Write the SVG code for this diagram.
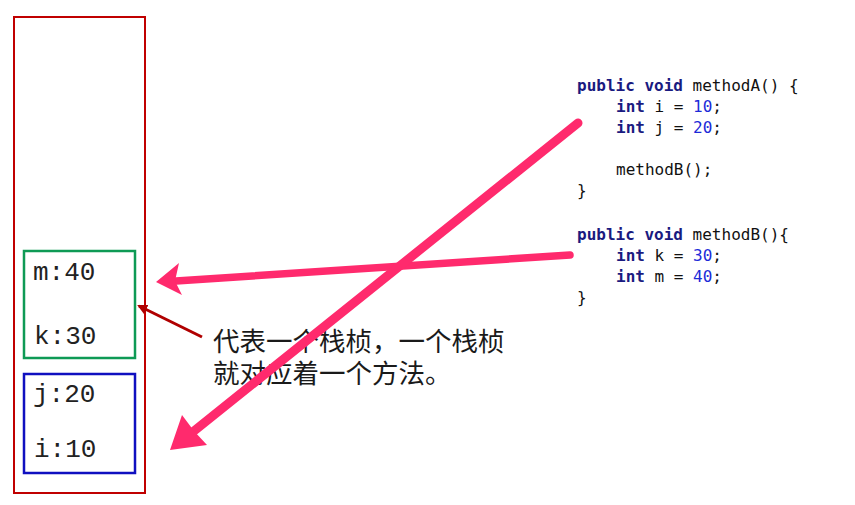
<svg xmlns="http://www.w3.org/2000/svg" width="855" height="505" viewBox="0 0 855 505">
<style>
.stk{font-family:"Liberation Mono","Courier New",monospace;font-size:26px;fill:#222}
.code{font-family:"DejaVu Sans Mono","Liberation Mono",monospace;font-size:16px;fill:#111}
.kw{fill:#1a1a80;font-weight:bold}
.num{fill:#1c2ad8}
.note{font-family:"Liberation Serif","Noto Sans CJK SC",serif;font-size:26.5px;fill:#1a1a1a}
.pink{stroke:#ff2a6d;fill:none;stroke-linecap:round}
</style>
<defs>
<marker id="dr" markerWidth="10" markerHeight="10" refX="8" refY="5" orient="auto" markerUnits="userSpaceOnUse">
<path d="M0,0 L10,5 L0,10 z" fill="#b00000"/>
</marker>
</defs>
<rect width="855" height="505" fill="#fff"/>
<g id="stack">
<rect x="14" y="17" width="131" height="476" fill="none" stroke="#c00000" stroke-width="2"/>
</g>
<g id="frameB">
<rect x="24" y="251" width="111" height="107" fill="none" stroke="#0e9a55" stroke-width="2.5"/>
<text class="stk" x="33" y="280">m:40</text>
<text class="stk" x="34" y="344">k:30</text>
</g>
<g id="frameA">
<rect x="24" y="374" width="111" height="99" fill="none" stroke="#1010c0" stroke-width="2.5"/>
<text class="stk" x="33" y="402">j:20</text>
<text class="stk" x="34" y="457">i:10</text>
</g>
<g id="codeA" class="code">
<text x="577" y="91"><tspan class="kw">public void</tspan> methodA() {</text>
<text x="616" y="112"><tspan class="kw">int</tspan> i = <tspan class="num">10</tspan>;</text>
<text x="616" y="133"><tspan class="kw">int</tspan> j = <tspan class="num">20</tspan>;</text>
<text x="616" y="175">methodB();</text>
<text x="577" y="196">}</text>
</g>
<g id="codeB" class="code">
<text x="577" y="240"><tspan class="kw">public void</tspan> methodB(){</text>
<text x="616" y="261"><tspan class="kw">int</tspan> k = <tspan class="num">30</tspan>;</text>
<text x="616" y="282"><tspan class="kw">int</tspan> m = <tspan class="num">40</tspan>;</text>
<text x="577" y="303">}</text>
</g>
<g id="note" class="note">
<text x="213" y="351">代表一个栈桢，一个栈桢</text>
<text x="213" y="383">就对应着一个方法。</text>
</g>
<g id="connectors">
<line x1="202" y1="337" x2="139" y2="306" stroke="#b00000" stroke-width="3" marker-end="url(#dr)"/>
<line class="pink" x1="570" y1="255" x2="176" y2="281" stroke-width="7.5"/>
<polygon points="156,282 179,263 175,281 182,295" fill="#ff2a6d"/>
<line class="pink" x1="578" y1="123" x2="194" y2="431" stroke-width="9"/>
<polygon points="170,450 182,415 194,431 207,445" fill="#ff2a6d"/>
</g>
</svg>
